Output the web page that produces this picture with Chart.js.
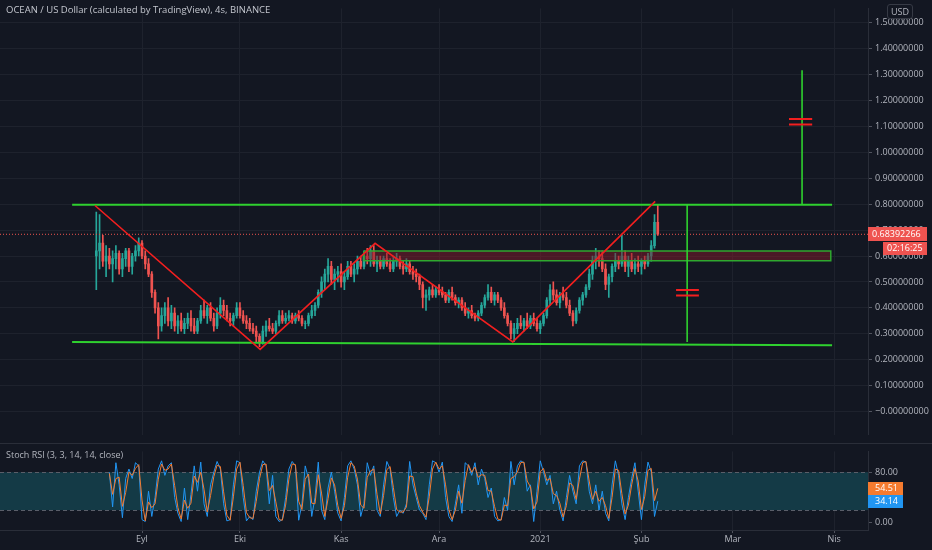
<!DOCTYPE html>
<html>
<head>
<meta charset="utf-8">
<script src="https://cdn.jsdelivr.net/npm/chart.js@4.4.1/dist/chart.umd.min.js"></script>
<style>
  body { margin: 0; background: #131722; width: 932px; height: 550px; overflow: hidden; position: relative; font-family: "Open Sans", sans-serif; }
  canvas { position: absolute; left: 0; }
  #main { top: 0; }
  #stoch { top: 443px; }
  .txt { position: absolute; white-space: nowrap; color: #c3c6ce; font-size: 9px; }
  #sep { position: absolute; left: 0; top: 443px; width: 932px; height: 1px; background: #2a2e39; }
  #usd { position: absolute; left: 887px; top: 4px; width: 24px; height: 13px; border: 1px solid #363a45; border-radius: 3px; background: #131722; color: #b2b5be; font-size: 9px; line-height: 13px; text-align: center; }
</style>
</head>
<body>
<canvas id="main" width="932" height="443"></canvas>
<canvas id="stoch" width="932" height="107"></canvas>
<div id="sep"></div>
<div class="txt" style="left:6px;top:3px;font-size:9.5px">OCEAN / US Dollar (calculated by TradingView), 4s, BINANCE</div>
<div class="txt" style="left:6px;top:448px;color:#b2b5be">Stoch RSI (3, 3, 14, 14, close)</div>
<div id="usd">USD</div>
<script>
// x axis = days since 1 Sep 2020
const monthTicks = [0, 30, 61, 91, 122, 153, 181, 212];
const monthLabels = ['Eyl', 'Eki', 'Kas', 'Ara', '2021', 'Şub', 'Mar', 'Nis'];

// daily candles, first one on day -14
const firstCandleDay = -14;
const opens = [
  .60,.62,.65,.58,.60,.57,.59,.61,.55,.59,.62,.56,.60,.62,
  .65,.60,.57,.53,.46,.40,.33,.37,.40,.35,
  .38,.33,.35,.32,.34,.36,.33,.31,.35,.39,
  .37,.40,.36,.33,.38,.41,.39,.36,.35,.37,
  .40,.37,.35,.34,.32,.31,.29,.27,.31,.33,
  .32,.31,.34,.37,.35,.36,.37,.35,.37,.36,
  .34,.34,.37,.39,.41,.46,.50,.53,.56,.51,
  .53,.54,.50,.52,.56,.53,.55,.58,.56,.60,
  .59,.62,.57,.58,.56,.59,.57,.55,.58,.59,
  .56,.55,.57,.54,.53,.52,.49,.44,.45,.47,
  .45,.47,.46,.45,.43,.46,.44,.42,.43,.40,
  .38,.39,.37,.36,.38,.41,.44,.46,.43,.45,
  .43,.40,.37,.34,.30,.32,.34,.33,.35,.33,
  .36,.34,.32,.34,.37,.43,.47,.45,.42,.45,
  .44,.41,.38,.35,.39,.43,.45,.48,.53,.58,
  .60,.59,.55,.49,.52,.56,.58,.57,.60,.56,
  .58,.55,.57,.56,.58,.57,.60,.64,.73
];
const highs = [
  .77,.76,.68,.64,.63,.62,.64,.62,.61,.63,.63,.61,.64,.67,
  .66,.62,.59,.54,.47,.42,.40,.42,.44,.41,
  .40,.37,.38,.36,.38,.39,.36,.36,.41,.43,
  .41,.42,.38,.40,.44,.43,.41,.38,.38,.42,
  .42,.39,.37,.36,.34,.33,.30,.33,.35,.36,
  .34,.35,.39,.39,.38,.39,.38,.38,.39,.37,
  .35,.38,.41,.42,.47,.52,.55,.59,.58,.55,
  .56,.57,.54,.58,.58,.57,.60,.60,.62,.63,
  .64,.64,.60,.60,.60,.61,.59,.60,.61,.60,
  .58,.59,.58,.56,.55,.53,.50,.47,.48,.49,
  .48,.49,.48,.46,.47,.48,.45,.44,.44,.42,
  .40,.41,.38,.39,.42,.45,.49,.48,.46,.46,
  .44,.42,.38,.35,.34,.36,.37,.36,.38,.37,
  .38,.36,.35,.38,.44,.49,.50,.47,.46,.48,
  .46,.43,.39,.40,.44,.46,.49,.55,.60,.63,
  .62,.62,.57,.53,.57,.61,.60,.68,.62,.60,
  .61,.59,.60,.59,.60,.61,.66,.76,.80
];
const lows = [
  .47,.55,.56,.52,.55,.50,.55,.53,.52,.56,.54,.53,.58,.60,
  .59,.55,.52,.44,.38,.28,.31,.34,.33,.32,
  .31,.30,.31,.30,.32,.31,.30,.30,.34,.36,
  .34,.35,.31,.32,.36,.37,.35,.33,.33,.36,
  .36,.34,.32,.31,.30,.27,.25,.26,.29,.31,
  .30,.30,.33,.34,.34,.35,.34,.34,.35,.33,
  .32,.33,.36,.37,.40,.44,.47,.50,.49,.47,
  .50,.48,.47,.51,.52,.50,.53,.55,.55,.57,
  .56,.56,.54,.55,.55,.56,.54,.54,.56,.55,
  .53,.54,.53,.51,.50,.47,.40,.39,.43,.44,
  .44,.45,.44,.42,.42,.43,.41,.40,.39,.37,
  .36,.36,.35,.35,.37,.40,.43,.42,.41,.42,
  .39,.36,.33,.28,.27,.30,.32,.31,.32,.32,
  .33,.31,.30,.33,.36,.41,.43,.41,.40,.43,
  .40,.37,.33,.34,.38,.41,.44,.47,.51,.55,
  .56,.54,.47,.44,.50,.54,.55,.56,.54,.52,
  .54,.53,.54,.53,.55,.56,.58,.63,.68
];
const closes = [
  .62,.65,.58,.60,.57,.59,.61,.55,.59,.62,.56,.60,.62,.65,
  .60,.57,.53,.46,.40,.33,.37,.40,.35,.38,
  .33,.35,.32,.34,.36,.33,.31,.35,.39,.37,
  .40,.36,.33,.38,.41,.39,.36,.35,.37,.40,
  .37,.35,.34,.32,.31,.29,.27,.31,.33,.32,
  .31,.34,.37,.35,.36,.37,.35,.37,.36,.34,
  .34,.37,.39,.41,.46,.50,.53,.56,.51,.53,
  .54,.50,.52,.56,.53,.55,.58,.56,.60,.59,
  .62,.57,.58,.56,.59,.57,.55,.58,.59,.56,
  .55,.57,.54,.53,.52,.49,.44,.45,.47,.45,
  .47,.46,.45,.43,.46,.44,.42,.43,.40,.38,
  .39,.37,.36,.38,.41,.44,.46,.43,.45,.43,
  .40,.37,.34,.30,.32,.34,.33,.35,.33,.36,
  .34,.32,.34,.37,.43,.47,.45,.42,.45,.44,
  .41,.38,.35,.39,.43,.45,.48,.53,.58,.60,
  .59,.55,.49,.52,.56,.58,.57,.60,.56,.58,
  .55,.57,.56,.58,.57,.60,.64,.73,.68392266
];
const lastPrice = 0.68392266;
const countdown = '02:16:25';

// Stoch RSI, daily, first value on day -10
const firstStochDay = -10;
const stochK = [
  80,25,95,60,8,70,85,70,95,90,
  5,2,50,10,40,85,98,75,90,95,
  40,15,2,55,5,45,90,50,96,30,
  10,60,80,97,85,30,3,5,60,98,
  95,40,3,10,5,50,80,98,90,30,
  75,10,2,5,40,85,97,90,4,30,
  90,70,10,40,96,20,5,55,80,50,
  15,3,40,90,98,85,60,10,30,95,
  75,90,20,10,60,97,85,40,10,20,
  15,30,97,60,40,20,15,5,60,98,
  95,80,96,40,10,2,30,60,15,95,
  90,75,95,60,85,70,40,55,10,3,
  5,40,20,97,60,90,98,95,50,60,
  2,50,98,80,60,75,30,50,20,3,
  40,75,50,30,90,98,96,50,30,60,
  20,50,15,3,60,98,75,30,5,40,
  70,95,50,5,60,96,80,10,34.14
];
const stochD = [
  78,45,70,72,26,48,80,75,86,92,
  36,3,33,24,30,69,93,83,85,93,
  59,24,6,36,23,31,74,64,80,53,
  17,43,73,91,89,49,12,4,41,85,
  96,59,16,8,7,34,70,92,93,51,
  59,33,5,4,28,69,93,92,34,21,
  69,77,31,30,76,47,10,38,71,60,
  27,7,27,72,95,90,69,28,23,72,
  82,85,45,14,43,84,89,56,21,17,
  17,25,74,73,47,27,17,9,41,85,
  96,85,90,60,21,5,20,50,31,67,
  92,80,88,72,76,75,51,50,26,6,
  4,28,27,70,73,80,95,96,66,57,
  22,33,81,86,67,70,46,43,31,9,
  27,63,59,37,69,95,97,66,37,50,
  34,40,27,7,40,85,83,46,14,28,
  60,86,66,21,41,83,86,35,54.51
];

// drawings: [day, price]
const resistanceLine = [[-21.4, 0.798], [211.4, 0.798]];
const supportLine = [[-21.4, 0.2685], [211.4, 0.256]];
const zigzag = [[-14.4, 0.795], [36.2, 0.240], [71.4, 0.649], [113.6, 0.2685], [157.2, 0.811]];
const zoneDays = [68.0, 211.0];
const zonePrices = [0.582, 0.619];
const targetDown = [[167.0, 0.798], [167.0, 0.268]];
const targetUp = [[202.2, 0.798], [202.2, 1.317]];
const equalMarks = [
  [[163.6, 0.469], [170.6, 0.469]], [[163.6, 0.448], [170.6, 0.448]],
  [[198.2, 1.129], [205.3, 1.129]], [[198.2, 1.108], [205.3, 1.108]]
];

const xMin = -43.5, xMax = 222.4;
const upColor = '#26a69a', downColor = '#ef5350';
const gridColor = '#1e222d';
const textColor = '#b2b5be';

Chart.defaults.font.family = '"Open Sans", sans-serif';
Chart.defaults.font.size = 9;
Chart.defaults.color = textColor;

const pts = arr => arr.map(([x, y]) => ({ x, y }));
const candleDays = closes.map((c, i) => firstCandleDay + i);
const candleColors = closes.map((c, i) => c >= opens[i] ? upColor : downColor);

function line(data, color, width, order, extra) {
  return Object.assign({ type: 'line', data: data, borderColor: color, borderWidth: width,
    pointRadius: 0, fill: false, tension: 0, order: order }, extra || {});
}

const setMonthTicks = scale => { scale.ticks = monthTicks.map(v => ({ value: v })); };

const priceTags = {
  id: 'priceTags',
  afterDraw(chart) {
    const { ctx, scales: { y } } = chart;
    const py = Math.round(y.getPixelForValue(lastPrice));
    ctx.save();
    ctx.fillStyle = '#ef5350';
    ctx.fillRect(868, py - 7, 59, 14);
    ctx.fillRect(883, py + 8, 44, 13);
    ctx.fillStyle = '#ffffff';
    ctx.font = '9px "Open Sans", sans-serif';
    ctx.textBaseline = 'middle';
    ctx.fillText(lastPrice.toFixed(8), 872, py);
    ctx.fillText(countdown, 887, py + 14.5);
    ctx.restore();
  }
};

const datasets = [
  line(pts(zigzag), '#f21f1f', 1.6, 0),
  line(pts(resistanceLine), '#2fd12f', 2, 1),
  line(pts(supportLine), '#2fd12f', 2, 1),
  line(pts(targetDown), '#2fd12f', 1.6, 1),
  line(pts(targetUp), '#2fd12f', 1.6, 1),
  line(pts([[zoneDays[0], zonePrices[1]], [zoneDays[1], zonePrices[1]], [zoneDays[1], zonePrices[0]],
            [zoneDays[0], zonePrices[0]], [zoneDays[0], zonePrices[1]]]), '#2fa82f', 1.5, 1),
  line(pts([[zoneDays[0], zonePrices[1]], [zoneDays[1], zonePrices[1]]]), 'rgba(0,0,0,0)', 0, 2,
       { fill: { target: { value: zonePrices[0] } }, backgroundColor: 'rgba(130,28,42,0.5)' }),
  line(pts([[xMin, lastPrice], [xMax, lastPrice]]), '#ef5350', 1, 3, { borderDash: [1, 2] }),
  {
    type: 'bar', order: 4, grouped: false, barThickness: 2,
    data: candleDays.map((d, i) => ({ x: d, y: [opens[i], closes[i]] })),
    backgroundColor: candleColors
  },
  {
    type: 'bar', order: 5, grouped: false, barThickness: 1,
    data: candleDays.map((d, i) => ({ x: d, y: [lows[i], highs[i]] })),
    backgroundColor: candleColors
  }
];
equalMarks.forEach(m => datasets.push(line(pts(m), '#f21f1f', 2, 0)));

new Chart(document.getElementById('main'), {
  type: 'bar',
  data: { datasets: datasets },
  options: {
    responsive: false, animation: false, events: [],
    layout: { padding: 0 },
    plugins: { legend: { display: false }, tooltip: { enabled: false } },
    scales: {
      x: {
        type: 'linear', min: xMin, max: xMax, offset: false,
        afterBuildTicks: setMonthTicks,
        afterFit: s => { s.height = 0; },
        ticks: { display: false },
        grid: { color: gridColor, drawTicks: false, offset: false },
        border: { display: false }
      },
      y: {
        position: 'right', min: -0.0891, max: 1.5557,
        afterFit: s => { s.width = 64; },
        ticks: {
          stepSize: 0.1, includeBounds: false, padding: 3, color: textColor,
          callback: v => Math.abs(v) < 1e-9 ? '\u22120.00000000' : v.toFixed(8)
        },
        grid: { color: gridColor, tickLength: 4, tickColor: '#50535e' },
        border: { color: '#2a2e39' }
      }
    }
  },
  plugins: [priceTags]
});

const stochBand = {
  id: 'stochBand',
  beforeDatasetsDraw(chart) {
    const { ctx, chartArea: a, scales: { y } } = chart;
    const y80 = y.getPixelForValue(80), y20 = y.getPixelForValue(20);
    ctx.save();
    ctx.fillStyle = '#143a46';
    ctx.fillRect(a.left, y80, a.right - a.left, y20 - y80);
    ctx.strokeStyle = '#5a5e69';
    ctx.lineWidth = 1;
    ctx.setLineDash([4, 3]);
    [y80, y20].forEach(py => {
      ctx.beginPath();
      ctx.moveTo(a.left, Math.round(py) + 0.5);
      ctx.lineTo(a.right, Math.round(py) + 0.5);
      ctx.stroke();
    });
    ctx.restore();
  },
  afterDraw(chart) {
    const { ctx, scales: { y } } = chart;
    const tags = [[stochD[stochD.length - 1], '#f57b2f'], [stochK[stochK.length - 1], '#2196f3']];
    ctx.save();
    ctx.font = '9px "Open Sans", sans-serif';
    ctx.textBaseline = 'middle';
    tags.forEach(([v, c]) => {
      const py = Math.round(y.getPixelForValue(v));
      ctx.fillStyle = c;
      ctx.fillRect(868, py - 6, 35, 13);
      ctx.fillStyle = '#ffffff';
      ctx.fillText(v.toFixed(2), 875, py + 0.5);
    });
    ctx.restore();
  }
};

const stochDays = stochK.map((v, i) => firstStochDay + i);

new Chart(document.getElementById('stoch'), {
  type: 'line',
  data: {
    datasets: [
      { data: stochDays.map((d, i) => ({ x: d, y: stochD[i] })), borderColor: '#f57b2f', borderWidth: 1, pointRadius: 0, tension: 0, order: 0 },
      { data: stochDays.map((d, i) => ({ x: d, y: stochK[i] })), borderColor: '#2196f3', borderWidth: 1, pointRadius: 0, tension: 0, order: 1 }
    ]
  },
  options: {
    responsive: false, animation: false, events: [],
    layout: { padding: 0 },
    plugins: { legend: { display: false }, tooltip: { enabled: false } },
    scales: {
      x: {
        type: 'linear', min: xMin, max: xMax,
        afterBuildTicks: setMonthTicks,
        afterFit: s => { s.height = 20; },
        ticks: { padding: 1, color: textColor, maxRotation: 0, autoSkip: false,
          callback: v => monthLabels[monthTicks.indexOf(v)] },
        grid: { color: gridColor, tickLength: 3, tickColor: '#50535e', offset: false },
        border: { color: '#2a2e39' }
      },
      y: {
        position: 'right', min: -11.4, max: 112.9,
        afterBuildTicks: s => { s.ticks = [{ value: 0 }, { value: 80 }]; },
        afterFit: s => { s.width = 64; },
        ticks: { padding: 3, color: textColor, callback: v => v.toFixed(2) },
        grid: { display: true, drawOnChartArea: false, tickLength: 4, tickColor: '#50535e' },
        border: { color: '#2a2e39' }
      }
    }
  },
  plugins: [stochBand]
});
</script>
</body>
</html>
